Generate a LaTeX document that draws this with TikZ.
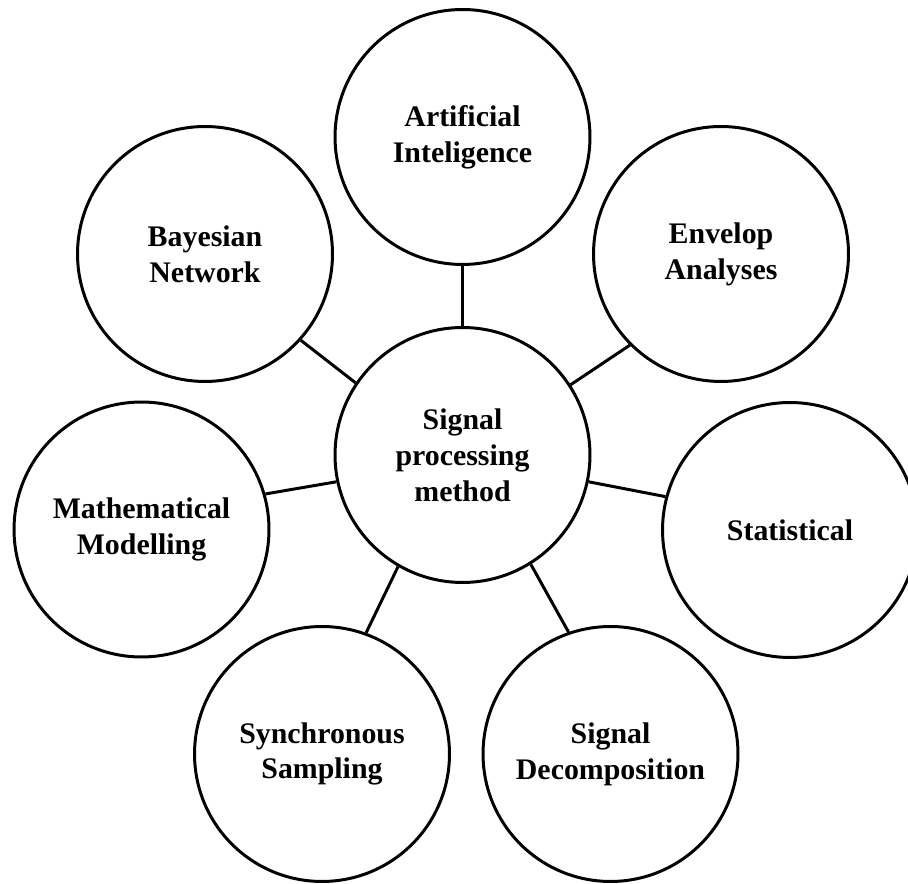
\documentclass[tikz,border=0pt]{standalone}
\usepackage{fontspec}
\setmainfont{Liberation Serif}
\usepackage{tikz}
\usetikzlibrary{positioning}
\tikzset{
  method/.style={draw,circle,line width=1.7pt,minimum size=5.1cm,inner sep=0pt,
    align=center,font=\bfseries\fontsize{17}{20.4}\selectfont},
  link/.style={line width=1.7pt}
}

\begin{document}
\begin{tikzpicture}[x=0.02cm,y=0.02cm]
  \useasboundingbox (0,0) rectangle (908,884);
  \node[method] (c) at (462.5,429) {Signal\\processing\\method};
  \node[method] (ai) at (462.5,747) {Artificial\\Inteligence};
  \node[method] (env) at (721,630) {Envelop\\Analyses};
  \node[method] (stat) at (790,354) {Statistical};
  \node[method] (dec) at (610.5,130) {Signal\\Decomposition};
  \node[method] (syn) at (322,130) {Synchronous\\Sampling};
  \node[method] (math) at (141.5,354.5) {Mathematical\\Modelling};
  \node[method] (bay) at (205,630) {Bayesian\\Network};
  % spokes from the hub to each method
  \foreach \n/\a/\b in {ai/90/270,env/33.7/225,stat/-12.3/165.6,dec/-58/109.3,
                        syn/-120.5/70.2,math/192/16.3,bay/146/-42}
    \draw[link] (c.\a) -- (\n.\b);
\end{tikzpicture}
\end{document}
